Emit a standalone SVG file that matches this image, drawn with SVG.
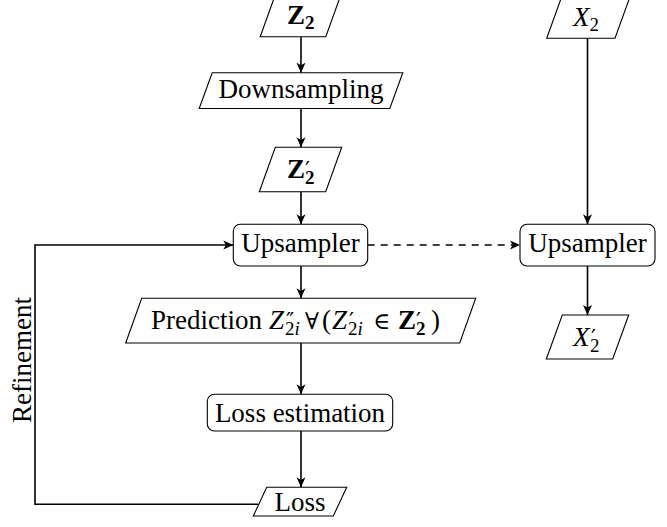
<svg xmlns="http://www.w3.org/2000/svg" width="667" height="527" viewBox="0 0 667 527">
<defs>
<style>
text{font-family:"Liberation Serif","Times New Roman",serif;font-size:27px;fill:#000}
.b{font-weight:bold}
.i{font-style:italic}
.n{font-style:normal}
.s{font-size:19px}
.m{font-family:"DejaVu Serif",serif;font-size:23px}
.p{font-family:"DejaVu Sans",sans-serif;font-size:22px;font-weight:normal;font-style:normal}
.node{fill:#fff;stroke:#000;stroke-width:1.1}
.c{fill:none;stroke:#000;stroke-width:1.6}
.d{stroke-dasharray:7 6}
</style>
<marker id="ah" markerWidth="12" markerHeight="10" refX="10" refY="5" orient="auto" markerUnits="userSpaceOnUse">
<path d="M0,0.5 L10,5 L0,9.5 L2.6,5 Z" fill="#000"/>
</marker>
</defs>
<g id="connectors">
<line class="c" x1="301" y1="36.7" x2="301" y2="72.7" marker-end="url(#ah)"/>
<line class="c" x1="301" y1="108.5" x2="301" y2="147.3" marker-end="url(#ah)"/>
<line class="c" x1="301" y1="191.7" x2="301" y2="224.3" marker-end="url(#ah)"/>
<line class="c" x1="301" y1="266" x2="301" y2="298.3" marker-end="url(#ah)"/>
<line class="c" x1="301" y1="343" x2="301" y2="394.3" marker-end="url(#ah)"/>
<line class="c" x1="301" y1="431" x2="301" y2="487.3" marker-end="url(#ah)"/>
<polyline class="c" points="258,504.3 35,504.3 35,245 233.3,245" marker-end="url(#ah)"/>
<line class="c d" x1="367.7" y1="245" x2="520" y2="245" marker-end="url(#ah)"/>
<line class="c" x1="587.5" y1="38.3" x2="587.5" y2="224.3" marker-end="url(#ah)"/>
<line class="c" x1="587.5" y1="266" x2="587.5" y2="315" marker-end="url(#ah)"/>
</g>
<g id="z2">
<polygon class="node" points="260.2,36.7 325.8,36.7 341.8,-7.7 276.2,-7.7"/>
<text x="287" y="24" class="b">Z<tspan class="s" dy="5">2</tspan></text>
</g>
<g id="downsampling">
<polygon class="node" points="199.2,108.5 389.8,108.5 402.8,72.7 212.2,72.7"/>
<text x="301" y="97.5" text-anchor="middle">Downsampling</text>
</g>
<g id="z2p">
<polygon class="node" points="259.3,191.7 325.7,191.7 341.7,147.3 275.3,147.3"/>
<text x="287" y="178" class="b">Z<tspan class="p" x="305" y="177">′</tspan><tspan class="s" x="305" y="184">2</tspan></text>
</g>
<g id="upsampler1">
<rect class="node" x="233.3" y="224.3" width="134.4" height="41.7" rx="7"/>
<text x="300.5" y="252" text-anchor="middle">Upsampler</text>
</g>
<g id="prediction">
<polygon class="node" points="125.7,343 459.7,343 475.7,298.3 141.7,298.3"/>
<text x="151" y="329">Prediction<tspan class="i" x="269" y="329">Z</tspan><tspan class="p" x="286" y="328">″</tspan><tspan class="s" x="285" y="335">2<tspan class="i">i</tspan></tspan><tspan class="m" x="305" y="329">∀</tspan><tspan x="322" y="329">(</tspan><tspan class="i" x="332" y="329">Z</tspan><tspan class="p" x="349" y="328">′</tspan><tspan class="s" x="348" y="335">2<tspan class="i">i</tspan></tspan><tspan class="m" x="373" y="329">∈</tspan><tspan class="b" x="398" y="329">Z</tspan><tspan class="p" x="416" y="328">′</tspan><tspan class="s b" x="416" y="335">2</tspan><tspan x="431" y="329">)</tspan></text>
</g>
<g id="lossest">
<rect class="node" x="207.3" y="394.3" width="185.4" height="36.7" rx="7"/>
<text x="300" y="422" text-anchor="middle">Loss estimation</text>
</g>
<g id="loss">
<polygon class="node" points="253.3,516 333.3,516 346.7,487.3 266.7,487.3"/>
<text x="300" y="511" text-anchor="middle">Loss</text>
</g>
<g id="x2">
<polygon class="node" points="546.7,38.3 615,38.3 631,-6 562.7,-6"/>
<text x="573" y="26" class="i">X<tspan class="s n" dy="5">2</tspan></text>
</g>
<g id="upsampler2">
<rect class="node" x="520" y="224.3" width="135" height="41.7" rx="7"/>
<text x="587.5" y="252" text-anchor="middle">Upsampler</text>
</g>
<g id="x2p">
<polygon class="node" points="546.3,359 612.7,359 628.7,315 562.3,315"/>
<text x="573" y="346" class="i">X<tspan class="p" x="591" y="345">′</tspan><tspan class="s n" x="590" y="352">2</tspan></text>
</g>
<text x="0" y="0" transform="translate(31,360) rotate(-90)" text-anchor="middle">Refinement</text>
</svg>
